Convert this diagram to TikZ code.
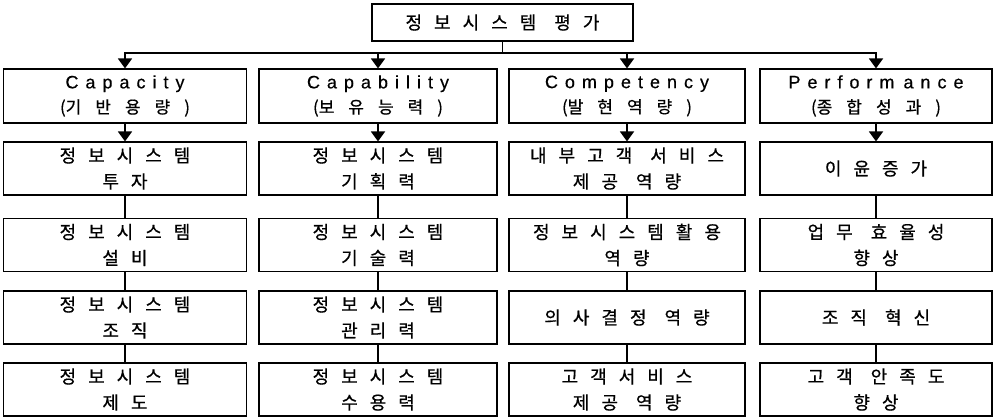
\documentclass[tikz,border=0pt]{standalone}
\usepackage{fontspec}
\setmainfont{Noto Sans CJK KR}
\newfontfamily\kr[FakeBold=0.6]{Noto Sans CJK KR}
\newfontfamily\lat[FakeBold=0.4]{Liberation Sans}
\usetikzlibrary{arrows.meta}
\newcommand\wg{\hspace{6pt}}
\begin{document}
\begin{tikzpicture}[x=1pt,y=-1pt,
  box/.style={draw,line width=1.1pt,rectangle,inner sep=0pt,align=center,
    font={\kr\fontsize{18}{26}\selectfont\spaceskip=12pt\relax}},
  catbox/.style={box,minimum height=54pt},
  rowbox/.style={box,minimum height=53pt},
  arw/.style={line width=1.7pt,-{Triangle[width=14pt,length=10pt]}},
  conn/.style={line width=1.3pt},
]
\useasboundingbox (0,0) rectangle (994,419);
\fill[white] (0,0) rectangle (994,419);
\coordinate (hl) at (0,53);

\node[box,minimum width=261pt,minimum height=37pt] (top) at (502.5,22.5) {정 보 시 스 템 \wg 평 가};

\newcommand\catline[2]{{\lat\fontsize{18}{21}\selectfont\spaceskip=7pt\relax #1}\\[-1pt]{\kr\fontsize{17}{21}\selectfont\spaceskip=14pt\relax #2}}

\node[catbox,minimum width=243pt] (c1) at (125,96) {\catline{C a p a c i t y}{(기 반 용 량 )}};
\node[catbox,minimum width=238pt] (c2) at (378,96) {\catline{C a p a b i l i t y}{(보 유 능 력 )}};
\node[catbox,minimum width=236pt] (c3) at (627,96) {\catline{C o m p e t e n c y}{(발 현 역 량 )}};
\node[catbox,minimum width=232pt] (c4) at (876,96) {\catline{P e r f o r m \hspace{2pt}a n c e}{(종 합 성 과 )}};

% column 1
\node[rowbox,minimum width=243pt] (a1) at (125,168.5) {정 보 시 스 템\\투 자};
\node[rowbox,minimum width=243pt] (a2) at (125,245) {정 보 시 스 템\\설 비};
\node[rowbox,minimum width=243pt] (a3) at (125,317.5) {정 보 시 스 템\\조 직};
\node[rowbox,minimum width=243pt] (a4) at (125,389.5) {정 보 시 스 템\\제 도};
% column 2
\node[rowbox,minimum width=238pt] (b1) at (378,168.5) {정 보 시 스 템\\기 획 력};
\node[rowbox,minimum width=238pt] (b2) at (378,245) {정 보 시 스 템\\기 술 력};
\node[rowbox,minimum width=238pt] (b3) at (378,317.5) {정 보 시 스 템\\관 리 력};
\node[rowbox,minimum width=238pt] (b4) at (378,389.5) {정 보 시 스 템\\수 용 력};
% column 3
\node[rowbox,minimum width=236pt] (d1) at (627,168.5) {내 부 고 객 \wg 서 비 스\\제 공 \wg 역 량};
\node[rowbox,minimum width=236pt] (d2) at (627,245) {정 보 시 스 템 활 용\\역 량};
\node[rowbox,minimum width=236pt] (d3) at (627,317.5) {의 사 결 정 \wg 역 량};
\node[rowbox,minimum width=236pt] (d4) at (627,389.5) {고 객 서 비 스\\제 공 \wg 역 량};
% column 4
\node[rowbox,minimum width=232pt] (e1) at (876,168.5) {이 윤 증 가};
\node[rowbox,minimum width=232pt] (e2) at (876,245) {업 무 \wg 효 율 성\\향 상};
\node[rowbox,minimum width=232pt] (e3) at (876,317.5) {조 직 \wg 혁 신};
\node[rowbox,minimum width=232pt] (e4) at (876,389.5) {고 객 \wg 안 족 도\\향 상};

% top distribution
\draw[line width=1.7pt] (top.south) -- (top.south |- hl);
\foreach \c in {c1,c2,c3,c4}{
  \draw[arw] (top.south |- hl) -| (\c.north);
}
% category to first row
\draw[arw] (c1.south) -- (a1.north);
\draw[arw] (c2.south) -- (b1.north);
\draw[arw] (c3.south) -- (d1.north);
\draw[arw] (c4.south) -- (e1.north);
% vertical connectors
\foreach \p in {a,b,d,e}{
  \draw[conn] (\p1.south) -- (\p2.north);
  \draw[conn] (\p2.south) -- (\p3.north);
  \draw[conn] (\p3.south) -- (\p4.north);
}
\end{tikzpicture}
\end{document}
